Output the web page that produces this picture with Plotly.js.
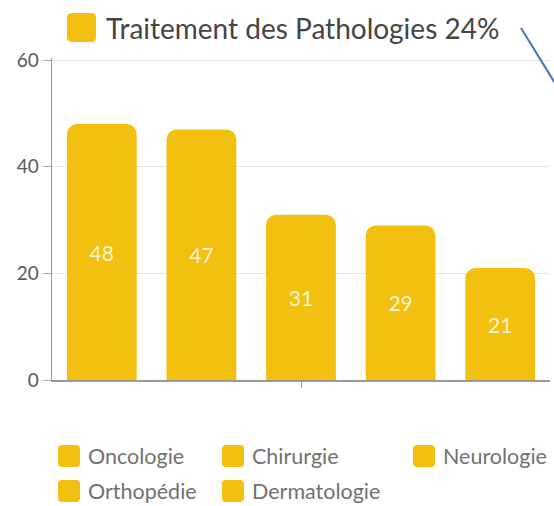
<!DOCTYPE html>
<html>
<head>
<meta charset="utf-8">
<script src="https://cdn.plot.ly/plotly-3.0.1.min.js"></script>
<style>html,body{margin:0;padding:0;background:#fff;}#chart{width:554px;height:506px;}</style>
</head>
<body>
<div id="chart"></div>
<script>
// ---- data ----
const chartTitle = "Traitement des Pathologies 24%";
const categories = ["Oncologie", "Chirurgie", "Neurologie", "Orthopédie", "Dermatologie"];
const values = [48, 47, 31, 29, 21];
const yTicks = [0, 20, 40, 60];

// ---- layout constants (pixels) ----
const W = 554, H = 506;
const M = {l: 52, r: 4, t: 58, b: 126};
const plotW = W - M.l - M.r, plotH = H - M.t - M.b;
const barColor = "#F2C00E";
const px = x => (x - M.l) / plotW;
const py = y => (H - M.b - y) / plotH;

function roundRect(x0, y0, x1, y1, r) {
  // pixel box -> paper path with rounded corners
  const X = px, Y = py;
  return "M" + X(x0 + r) + "," + Y(y0) +
    " L" + X(x1 - r) + "," + Y(y0) +
    " Q" + X(x1) + "," + Y(y0) + " " + X(x1) + "," + Y(y0 + r) +
    " L" + X(x1) + "," + Y(y1 - r) +
    " Q" + X(x1) + "," + Y(y1) + " " + X(x1 - r) + "," + Y(y1) +
    " L" + X(x0 + r) + "," + Y(y1) +
    " Q" + X(x0) + "," + Y(y1) + " " + X(x0) + "," + Y(y1 - r) +
    " L" + X(x0) + "," + Y(y0 + r) +
    " Q" + X(x0) + "," + Y(y0) + " " + X(x0 + r) + "," + Y(y0) + " Z";
}

const traces = categories.map((c, i) => ({
  type: "bar",
  name: c,
  x: ["Traitement"],
  y: [values[i]],
  text: [String(values[i])],
  textposition: "inside",
  insidetextanchor: "middle",
  textangle: 0,
  textfont: {family: "Lato, sans-serif", size: 21, color: "rgba(255,255,255,0.82)"},
  marker: {color: barColor, cornerradius: 10},
  hoverinfo: "skip",
  showlegend: false
}));

// custom legend: rounded squares + labels
const legendPos = [[58, 456], [222, 456], [413, 456], [58, 491], [222, 491]];
const shapes = [];
const annotations = [];
categories.forEach((c, i) => {
  const [lx, ly] = legendPos[i];
  shapes.push({type: "path", xref: "paper", yref: "paper",
    path: roundRect(lx, ly - 11, lx + 22, ly + 11, 4),
    fillcolor: barColor, line: {width: 0}});
  annotations.push({xref: "paper", yref: "paper", x: px(lx + 28), y: py(ly),
    xanchor: "left", yanchor: "middle", showarrow: false, text: c,
    font: {family: "Lato, sans-serif", size: 21.5, color: "#717171"}});
});

// title with square marker
shapes.push({type: "path", xref: "paper", yref: "paper",
  path: roundRect(67, 13, 96, 42, 5), fillcolor: barColor, line: {width: 0}});
annotations.push({xref: "paper", yref: "paper", x: px(104), y: py(28),
  xanchor: "left", yanchor: "middle", showarrow: false, text: chartTitle,
  font: {family: "Lato, sans-serif", size: 28, color: "#454545"}});

// blue connector line at top right
shapes.push({type: "line", xref: "paper", yref: "paper",
  x0: px(521), y0: py(28), x1: px(558), y1: py(88),
  line: {color: "#4472C4", width: 2}});

const layout = {
  width: W, height: H,
  margin: M,
  paper_bgcolor: "#fff", plot_bgcolor: "#fff",
  barmode: "group", bargap: 0, bargroupgap: 0.3,
  showlegend: false,
  font: {family: "Lato, sans-serif", color: "#555"},
  xaxis: {showticklabels: false, ticks: "outside", ticklen: 6, tickcolor: "#999",
    showline: true, linecolor: "#9a9a9a", linewidth: 1.5, showgrid: false, fixedrange: true},
  yaxis: {range: [0, 60.4], tickvals: yTicks, ticks: "outside", ticklen: 8, tickcolor: "#aaa",
    showline: true, linecolor: "#9a9a9a", linewidth: 1.5,
    gridcolor: "#e6e6e6", gridwidth: 1, zeroline: false,
    tickfont: {family: "Lato, sans-serif", size: 19, color: "#5a5a5a"}, fixedrange: true},
  shapes: shapes,
  annotations: annotations
};

Plotly.newPlot("chart", traces, layout, {displayModeBar: false, staticPlot: true});
</script>
</body>
</html>
